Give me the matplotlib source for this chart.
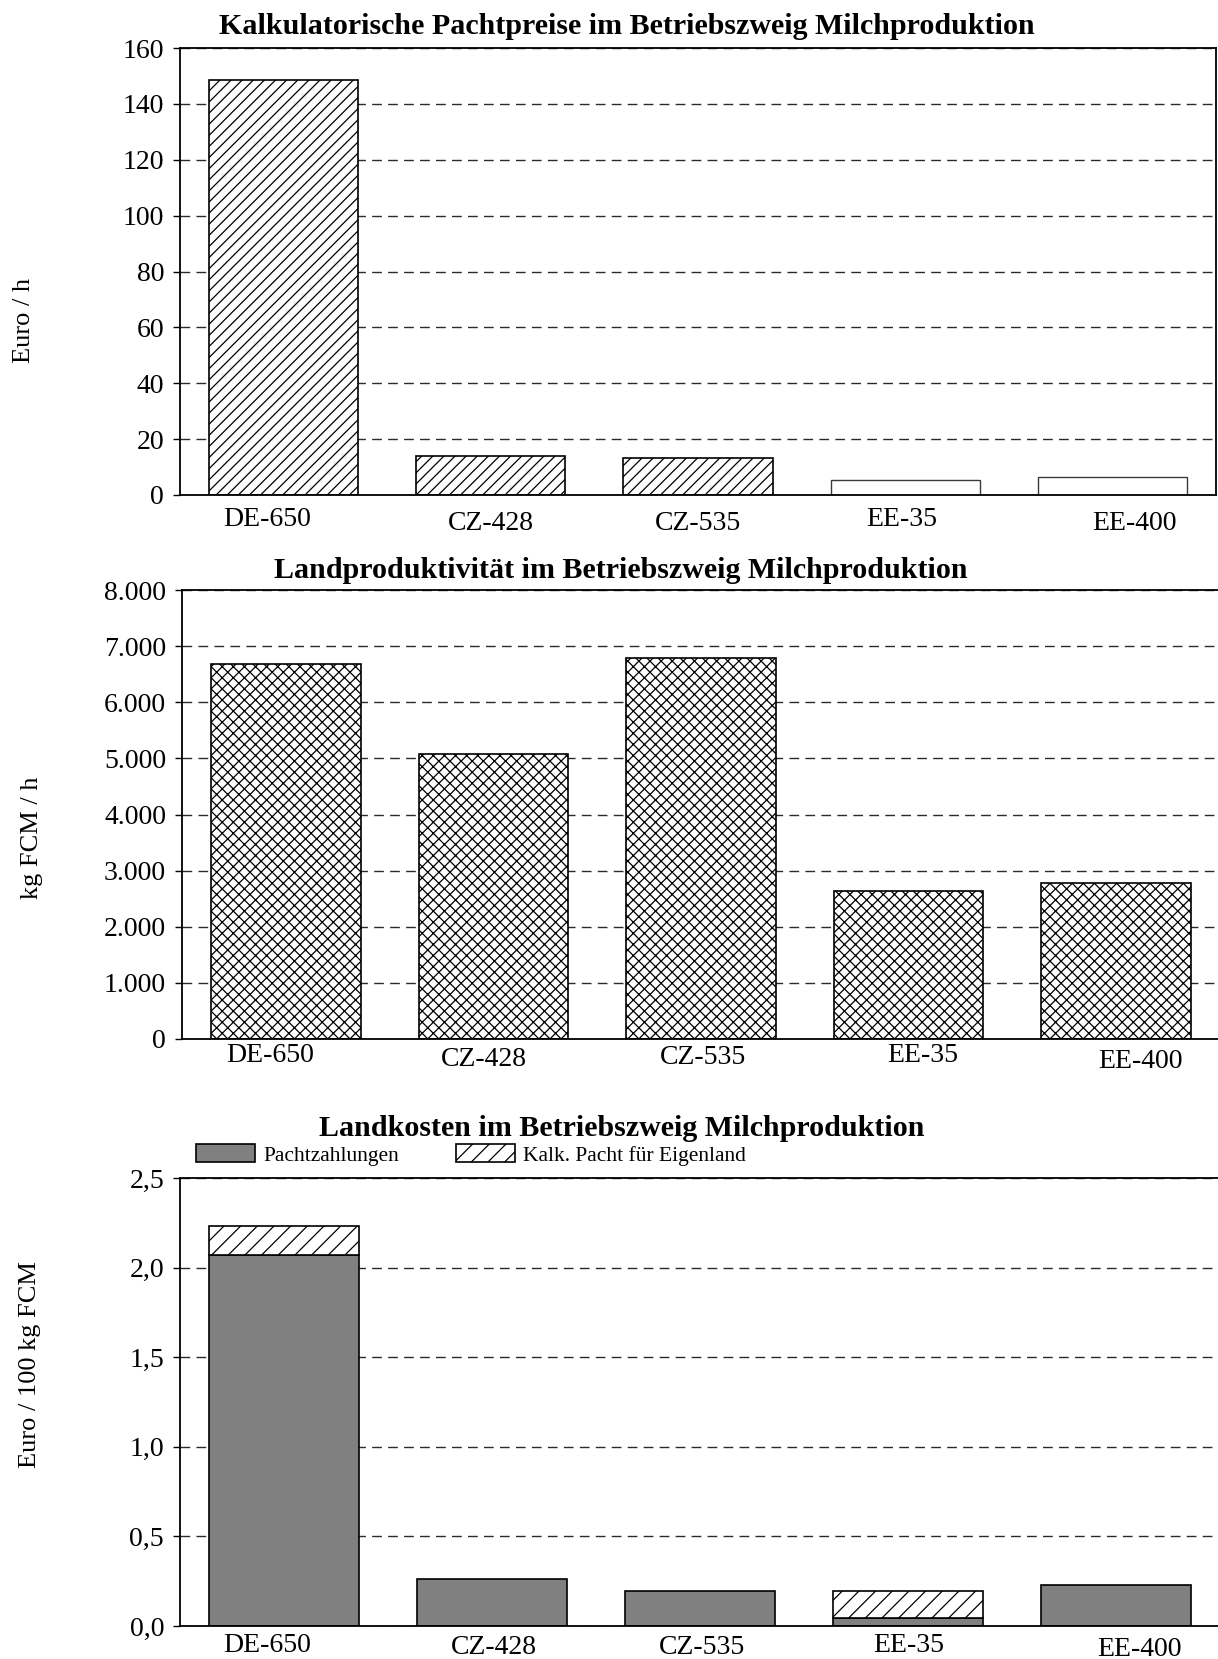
import matplotlib
matplotlib.use("Agg")
import matplotlib.pyplot as plt
from matplotlib.transforms import ScaledTranslation
from matplotlib.patches import Patch

plt.rcParams["font.family"] = ["Liberation Serif", "DejaVu Serif"]
plt.rcParams["hatch.linewidth"] = 0.9

# ---- data -------------------------------------------------------------
betriebe = ["DE-650", "CZ-428", "CZ-535", "EE-35", "EE-400"]

# Kalkulatorische Pachtpreise (Euro / h)
pachtpreise = [148.6, 14.0, 13.2, 5.3, 6.4]
pachtpreise_schraffiert = [True, True, True, False, False]

# Landproduktivität (kg FCM / h)
landproduktivitaet = [6680, 5075, 6795, 2640, 2775]

# Landkosten (Euro / 100 kg FCM)
pachtzahlungen = [2.07, 0.265, 0.195, 0.047, 0.23]
kalk_pacht_eigenland = [0.16, 0.0, 0.0, 0.148, 0.0]

ticks1 = [0, 20, 40, 60, 80, 100, 120, 140, 160]
ticklabels1 = ["0", "20", "40", "60", "80", "100", "120", "140", "160"]
ticks2 = [0, 1000, 2000, 3000, 4000, 5000, 6000, 7000, 8000]
ticklabels2 = ["0", "1.000", "2.000", "3.000", "4.000", "5.000", "6.000", "7.000", "8.000"]
ticks3 = [0.0, 0.5, 1.0, 1.5, 2.0, 2.5]
ticklabels3 = ["0,0", "0,5", "1,0", "1,5", "2,0", "2,5"]

titel1 = "Kalkulatorische Pachtpreise im Betriebszweig Milchproduktion"
titel2 = "Landproduktivität im Betriebszweig Milchproduktion"
titel3 = "Landkosten im Betriebszweig Milchproduktion"

# ---- layout -----------------------------------------------------------
W, H = 1218, 1659
DPI = 100
fig = plt.figure(figsize=(W / DPI, H / DPI), dpi=DPI)


def add_axes_px(left, top, right, bottom):
    return fig.add_axes([left / W, 1 - bottom / H, (right - left) / W, (bottom - top) / H])


ax1 = add_axes_px(180, 48, 1216, 495)
ax2 = add_axes_px(182, 590, 1220, 1039)
ax3 = add_axes_px(180, 1178, 1220, 1626)

x = list(range(len(betriebe)))
bar_w = 0.72
grid_dash = (0, (7, 4.5))


def style_axes(ax, ticks, labels, ymax, show_right, label_dx, label_dy):
    ax.set_xlim(-0.5, len(betriebe) - 0.5)
    ax.set_ylim(0, ymax)
    ax.set_yticks(ticks)
    ax.set_yticklabels(labels)
    ax.tick_params(axis="y", direction="out", length=5, width=1, pad=6.5,
                   labelsize=20, color="black")
    ax.set_xticks(x)
    ax.set_xticklabels(betriebe)
    ax.tick_params(axis="x", length=0, pad=0, labelsize=20)
    for lbl, dx, dy in zip(ax.get_xticklabels(), label_dx, label_dy):
        lbl.set_va("center")
        lbl.set_transform(lbl.get_transform()
                          + ScaledTranslation(dx / DPI, -dy / DPI, fig.dpi_scale_trans))
    ax.yaxis.grid(True, linestyle=grid_dash, color="#2a2a2a", linewidth=1.0)
    ax.set_axisbelow(True)
    for side in ["left", "top", "bottom", "right"]:
        ax.spines[side].set_linewidth(1.3)
        ax.spines[side].set_color("black")
    ax.spines["right"].set_visible(show_right)


# ---- chart 1: Pachtpreise ---------------------------------------------
for xi, v, hatched in zip(x, pachtpreise, pachtpreise_schraffiert):
    if hatched:
        ax1.bar(xi, v, width=bar_w, facecolor="white", edgecolor="black",
                linewidth=1.2, hatch="///", zorder=2)
    else:
        ax1.bar(xi, v, width=bar_w, facecolor="white", edgecolor="#3a3a3a",
                linewidth=1.0, zorder=2)
style_axes(ax1, ticks1, ticklabels1, 160, True,
           [-16, 0, 0, -3, 22], [25, 28, 28, 25, 29])

# ---- chart 2: Landproduktivität ---------------------------------------
ax2.bar(x, landproduktivitaet, width=bar_w, facecolor="white", edgecolor="black",
        linewidth=1.2, hatch="xxx", zorder=2)
style_axes(ax2, ticks2, ticklabels2, 8000, False,
           [-16, -10, 2, 14, 24], [17, 20, 19, 17, 22])

# ---- chart 3: Landkosten ----------------------------------------------
ax3.bar(x, pachtzahlungen, width=bar_w, facecolor="#808080", edgecolor="black",
        linewidth=1.2, zorder=2)
for xi, base, v in zip(x, pachtzahlungen, kalk_pacht_eigenland):
    if v > 0:
        ax3.bar(xi, v, bottom=base, width=bar_w, facecolor="white",
                edgecolor="black", linewidth=1.2, hatch="//", zorder=2)
style_axes(ax3, ticks3, ticklabels3, 2.5, False,
           [-17, 2, 2, 1, 23], [20, 22, 22, 20, 23])

handles = [
    Patch(facecolor="#808080", edgecolor="black", linewidth=1.2, label="Pachtzahlungen"),
    Patch(facecolor="white", edgecolor="black", linewidth=1.2, hatch="//",
          label="Kalk. Pacht für Eigenland"),
]
fig.legend(handles=handles, loc="center left", bbox_to_anchor=(196 / W, 1 - 1155 / H),
           ncol=2, frameon=False, fontsize=15.5, handlelength=2.75, handleheight=0.85,
           handletextpad=0.4, columnspacing=2.6, borderpad=0, borderaxespad=0)

# ---- titles and axis labels -------------------------------------------
fig.text(627 / W, 1 - 27 / H, titel1, ha="center", va="center",
         fontsize=21.6, fontweight="bold")
fig.text(621 / W, 1 - 571 / H, titel2, ha="center", va="center",
         fontsize=21.6, fontweight="bold")
fig.text(622 / W, 1 - 1129 / H, titel3, ha="center", va="center",
         fontsize=21.6, fontweight="bold")

fig.text(24 / W, 1 - 320 / H, "Euro / h", rotation=90, ha="center", va="center", fontsize=19)
fig.text(32 / W, 1 - 838 / H, "kg FCM / h", rotation=90, ha="center", va="center", fontsize=19)
fig.text(30 / W, 1 - 1365 / H, "Euro / 100 kg FCM", rotation=90, ha="center", va="center",
         fontsize=19)

fig.savefig("out.png", dpi=DPI, facecolor="white")
